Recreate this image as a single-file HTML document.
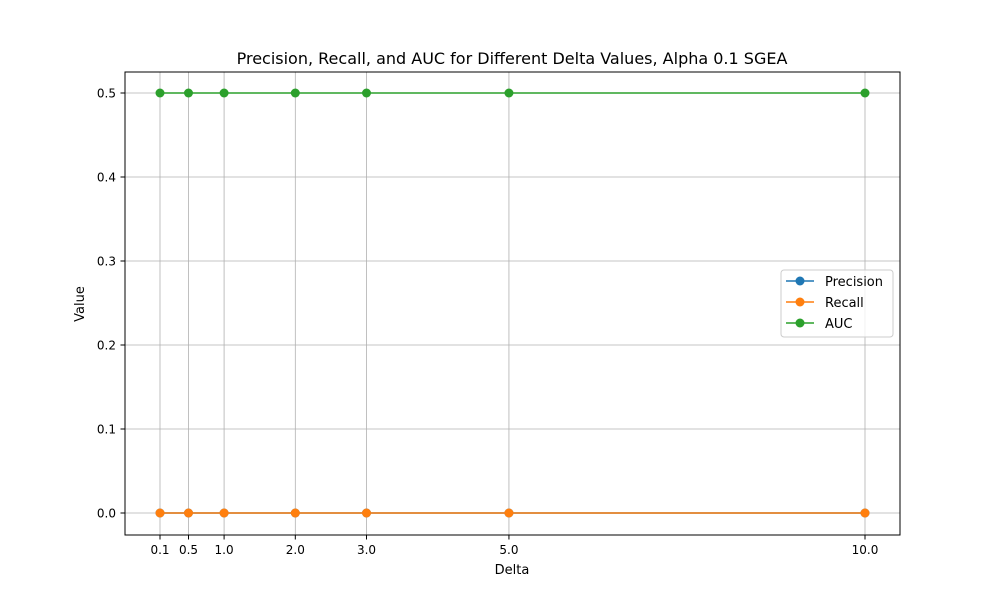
<!DOCTYPE html>
<html><head><meta charset="utf-8"><style>
body{margin:0;background:#fff;}
svg{font-family:"DejaVu Sans","Liberation Sans",sans-serif;}
</style></head><body>
<svg id="chart" width="1000" height="600" viewBox="0 0 1000 600">
<rect width="1000" height="600" fill="#fff"/>
<text x="512" y="64" font-size="16" text-anchor="middle">Precision, Recall, and AUC for Different Delta Values, Alpha 0.1 SGEA</text>
<g id="grid"></g>
<g id="series"></g>
<rect x="125" y="72" width="775" height="463" fill="none" stroke="#000" stroke-width="1"/>
<g id="ticks" font-size="12"></g>
<text x="512" y="574" font-size="13" text-anchor="middle">Delta</text>
<text x="84" y="304" font-size="13" text-anchor="middle" transform="rotate(-90 84 304)">Value</text>
<g>
<rect x="781" y="270" width="112" height="67" rx="3" fill="#fff" fill-opacity="0.8" stroke="#ccc"/>
<g><line x1="786" y1="281" x2="814" y2="281" stroke="#1f77b4" stroke-width="1.5"/><circle cx="800" cy="281" r="4.5" fill="#1f77b4"/><text x="825" y="286" font-size="13">Precision</text></g>
<g><line x1="786" y1="302" x2="814" y2="302" stroke="#ff7f0e" stroke-width="1.5"/><circle cx="800" cy="302" r="4.5" fill="#ff7f0e"/><text x="825" y="307" font-size="13">Recall</text></g>
<g><line x1="786" y1="323" x2="814" y2="323" stroke="#2ca02c" stroke-width="1.5"/><circle cx="800" cy="323" r="4.5" fill="#2ca02c"/><text x="825" y="328" font-size="13">AUC</text></g>
</g>
</svg>
<script>
const deltas=[0.1,0.5,1.0,2.0,3.0,5.0,10.0];
const xTickLabels=["0.1","0.5","1.0","2.0","3.0","5.0","10.0"];
const precision=[0,0,0,0,0,0,0];
const recall=[0,0,0,0,0,0,0];
const auc=[0.5,0.5,0.5,0.5,0.5,0.5,0.5];
const yTicks=[0.0,0.1,0.2,0.3,0.4,0.5];
const yTickLabels=["0.0","0.1","0.2","0.3","0.4","0.5"];
const NS="http://www.w3.org/2000/svg";
function xs(v){return 160+(v-0.1)*(705/9.9);}
function ys(v){return 513-v*840;}
function mk(tag,attrs,parent){const e=document.createElementNS(NS,tag);for(const k in attrs)e.setAttribute(k,attrs[k]);parent.appendChild(e);return e;}
const grid=document.getElementById('grid'),ticks=document.getElementById('ticks'),ser=document.getElementById('series');
deltas.forEach((d,i)=>{const x=xs(d);
 const g=mk('line',{x1:x,y1:72,x2:x,y2:535,stroke:'#b0b0b0','stroke-width':0.8},grid);
 
 
 mk('line',{x1:x,y1:535,x2:x,y2:539.5,stroke:'#000'},ticks);
 const t=mk('text',{x:x,y:554,'text-anchor':'middle'},ticks);t.textContent=xTickLabels[i];
 
 
});
yTicks.forEach((v,i)=>{const y=ys(v);
 const g=mk('line',{x1:125,y1:y,x2:900,y2:y,stroke:'#b0b0b0','stroke-width':0.8},grid);
 
 
 mk('line',{x1:120.5,y1:y,x2:125,y2:y,stroke:'#000'},ticks);
 const t=mk('text',{x:116,y:y+4.5,'text-anchor':'end'},ticks);t.textContent=yTickLabels[i];
 
 
});
[[precision,'#1f77b4','precision'],[recall,'#ff7f0e','recall'],[auc,'#2ca02c','auc']].forEach(([vals,c,n])=>{
 const g=mk('g',{},ser);
 
 
 mk('polyline',{points:deltas.map((d,i)=>xs(d)+','+ys(vals[i])).join(' '),fill:'none',stroke:c,'stroke-width':1.5},g);
 deltas.forEach((d,i)=>{const p=mk('circle',{cx:xs(d),cy:ys(vals[i]),r:4.5,fill:c},g);
  
  });
});
</script>
</body></html>
